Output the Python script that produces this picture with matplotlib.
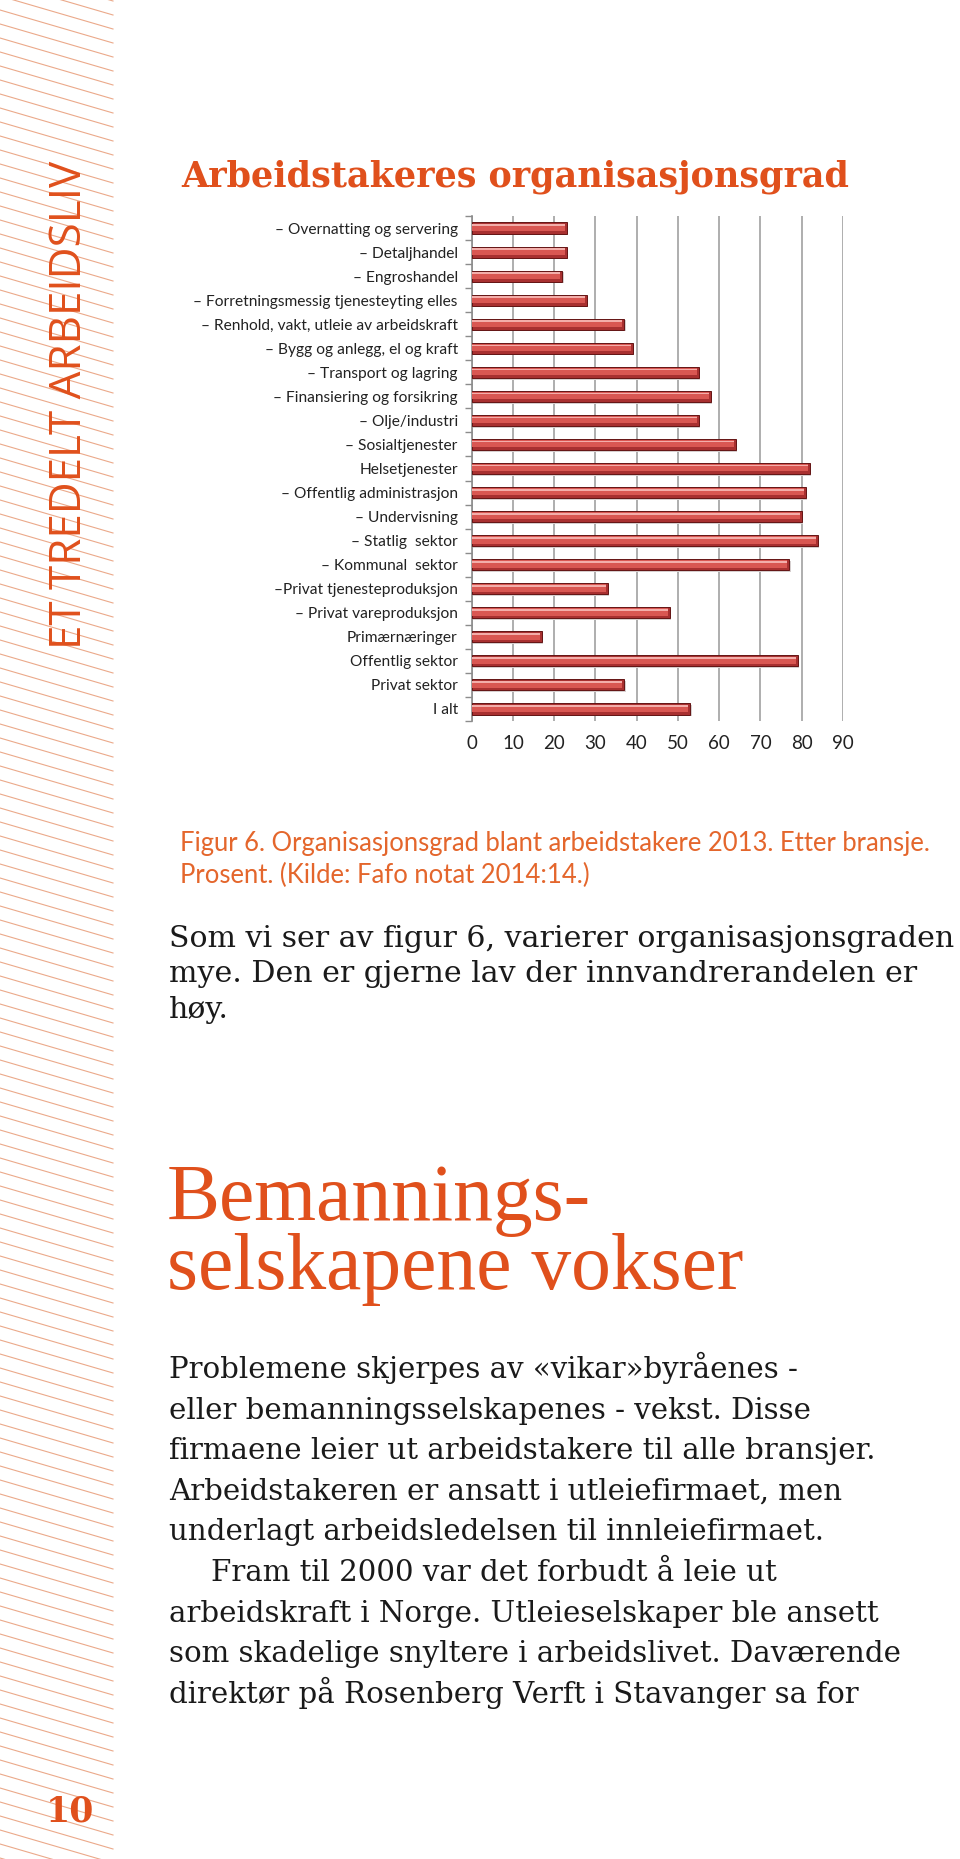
import matplotlib
matplotlib.use("Agg")
import matplotlib.pyplot as plt
import numpy as np
from matplotlib.lines import Line2D

# figure size in pixels
W, H = 960, 1859

categories = [
    "– Overnatting og servering",
    "– Detaljhandel",
    "– Engroshandel",
    "– Forretningsmessig tjenesteyting elles",
    "– Renhold, vakt, utleie av arbeidskraft",
    "– Bygg og anlegg, el og kraft",
    "– Transport og lagring",
    "– Finansiering og forsikring",
    "– Olje/industri",
    "– Sosialtjenester",
    "Helsetjenester",
    "– Offentlig administrasjon",
    "– Undervisning",
    "– Statlig  sektor",
    "– Kommunal  sektor",
    "–Privat tjenesteproduksjon",
    "– Privat vareproduksjon",
    "Primærnæringer",
    "Offentlig sektor",
    "Privat sektor",
    "I alt",
]
values = [23, 23, 22, 28, 37, 39, 55, 58, 55, 64, 82,
          81, 80, 84, 77, 33, 48, 17, 79, 37, 53]
xticks = [0, 10, 20, 30, 40, 50, 60, 70, 80, 90]

title = "Arbeidstakeres organisasjonsgrad"
side_text = "ET TREDELT ARBEIDSLIV"
page_no = "10"
caption = ["Figur 6. Organisasjonsgrad blant arbeidstakere 2013. Etter bransje.",
           "Prosent. (Kilde: Fafo notat 2014:14.)"]
para1 = ["Som vi ser av figur 6, varierer organisasjonsgraden",
         "mye. Den er gjerne lav der innvandrerandelen er",
         "høy."]
heading = ["Bemannings-", "selskapene vokser"]
para2 = ["Problemene skjerpes av «vikar»byråenes -",
         "eller bemanningsselskapenes - vekst. Disse",
         "firmaene leier ut arbeidstakere til alle bransjer.",
         "Arbeidstakeren er ansatt i utleiefirmaet, men",
         "underlagt arbeidsledelsen til innleiefirmaet.",
         "Fram til 2000 var det forbudt å leie ut",
         "arbeidskraft i Norge. Utleieselskaper ble ansett",
         "som skadelige snyltere i arbeidslivet. Daværende",
         "direktør på Rosenberg Verft i Stavanger sa for"]

ORANGE = '#e0501c'

fig = plt.figure(figsize=(W / 100, H / 100), dpi=100)
renderer = fig.canvas.get_renderer()


def put(x, y, s, fs, **kw):
    return fig.text(x / W, 1 - y / H, s, fontsize=fs, **kw)


def fitted_size(s, target, fs, vertical=False, **kw):
    """ font size that makes the text s span target pixels """
    t = fig.text(0, 0, s, fontsize=fs, **kw)
    bb = t.get_window_extent(renderer)
    t.remove()
    return fs * target / (bb.height if vertical else bb.width)


# striped margin on the left
for y0 in np.arange(-60, H + 20, 14):
    fig.add_artist(Line2D([0, 113 / W], [1 - y0 / H, 1 - (y0 + 33) / H],
                          color='#eba98a', lw=0.8))

fs = fitted_size(side_text, 490, 30, vertical=True, family='Open Sans', rotation=90)
put(70, 405, side_text, fs, family='Open Sans', rotation=90, color=ORANGE,
    ha='center', va='center')
put(70, 1812, page_no, 25, family='DejaVu Serif', weight='bold', color=ORANGE,
    ha='center', va='center')

# title
fs = fitted_size(title, 669, 24, family='DejaVu Serif', weight='bold')
put(181, 187, title, fs, family='DejaVu Serif', weight='bold', color=ORANGE,
    va='baseline')

# bar chart
ax = fig.add_axes([471.7 / W, 1 - 721 / H, (843 - 471.7) / W, (721 - 216) / H])
ypos = np.arange(len(categories))
vals = np.array(values, dtype=float)
ax.barh(ypos + 0.07, vals, left=0.3, height=0.46, color='#d6cfcf', lw=0, zorder=2)
ax.barh(ypos, vals, height=0.46, color='#a83030', edgecolor='#641414', lw=0.7, zorder=3)
ax.barh(ypos - 0.03, vals - 0.5, height=0.3, color='#d95752', lw=0, zorder=4)
ax.barh(ypos - 0.12, vals - 0.5, height=0.07, color='#f3aeaa', lw=0, zorder=5)

ax.set_xlim(0, 90)
ax.set_ylim(len(categories) - 0.5, -0.5)
ax.set_xticks(xticks)
ax.set_xticklabels([str(t) for t in xticks], family='Lato', fontsize=13.5, color='#222222')
ax.set_yticks(ypos)
ax.set_yticklabels(categories, family='Lato', fontsize=11.2, color='#222222')
ax.set_yticks(np.arange(-0.5, len(categories), 1), minor=True)
ax.tick_params(axis='x', length=0, pad=10)
ax.tick_params(axis='y', which='major', length=0, pad=10)
ax.tick_params(axis='y', which='minor', length=5, color='#8c8c8c', width=1)
ax.set_axisbelow(True)
ax.grid(axis='x', color='#a8a8a8', lw=1.3)
for side in ['top', 'right', 'bottom']:
    ax.spines[side].set_visible(False)
ax.spines['left'].set_color('#8c8c8c')
ax.spines['left'].set_linewidth(1.2)

# caption
cap_color = '#e4662c'
fs = fitted_size(caption[0], 755, 16, family='Lato')
for i, line in enumerate(caption):
    put(180, 851 + 32 * i, line, fs, family='Lato', color=cap_color, va='baseline')

# body text
body_color = '#1a1a1a'
fs = fitted_size(para1[0], 785, 18, family='DejaVu Serif')
for i, line in enumerate(para1):
    put(169, 947 + 35.5 * i, line, fs, family='DejaVu Serif', color=body_color,
        va='baseline')

fs = fitted_size(heading[1], 576, 56, family='Liberation Serif')
for i, line in enumerate(heading):
    put(167, 1220 + 69 * i, line, fs, family='Liberation Serif', color=ORANGE,
        va='baseline')

fs = fitted_size(para2[2], 707, 16, family='DejaVu Serif')
for i, line in enumerate(para2):
    x = 211 if i == 5 else 169
    put(x, 1378 + 40.6 * i, line, fs, family='DejaVu Serif', color=body_color,
        va='baseline')

fig.savefig('out.png', dpi=100, facecolor='white')
